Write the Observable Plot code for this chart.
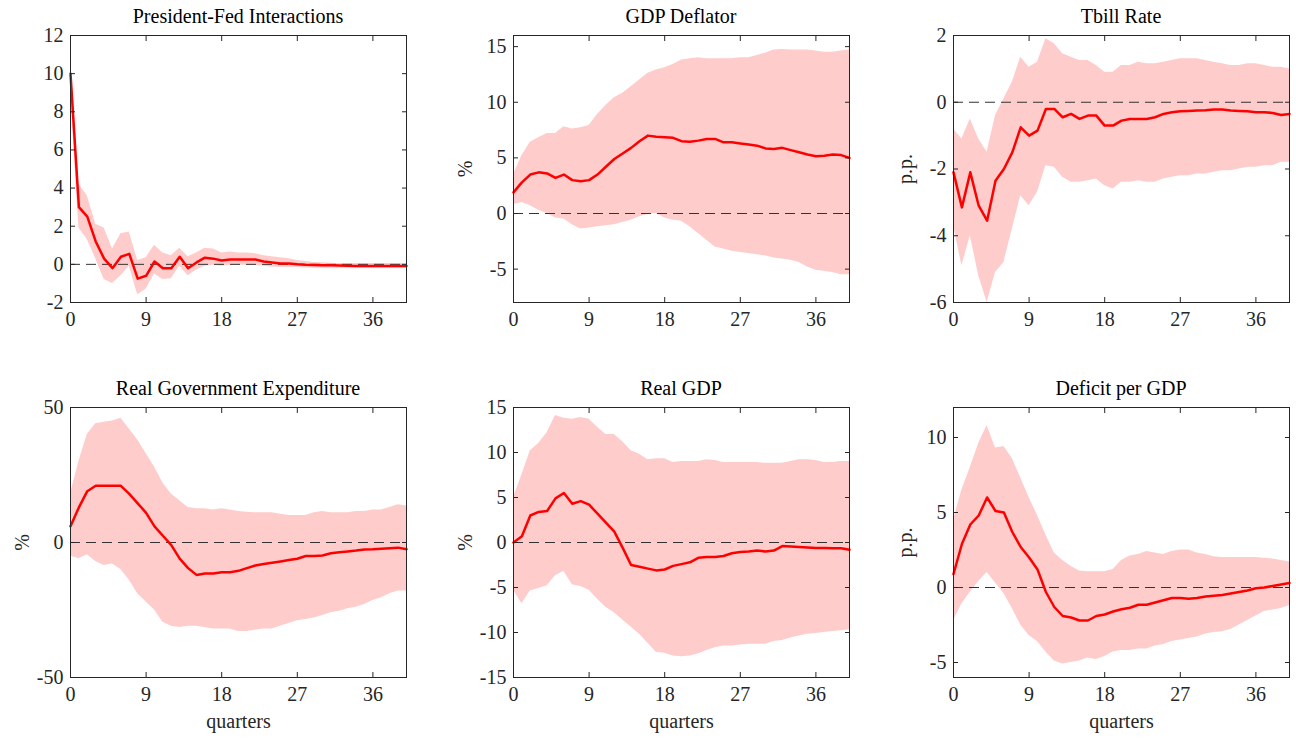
<!DOCTYPE html>
<html><head><meta charset="utf-8">
<script src="https://cdn.jsdelivr.net/npm/d3@7"></script>
<script src="https://cdn.jsdelivr.net/npm/@observablehq/plot@0.6"></script>
<style>
body{margin:0;background:#fff;font-family:"Liberation Serif",serif;}
#wrap{position:relative;width:1296px;height:738px;}
.t{position:absolute;font-size:20px;color:#000;text-align:center;width:336px;}
.p{position:absolute;}
.p text{font-size:20px !important;font-family:"Liberation Serif",serif !important;fill:#262626;}
</style></head><body><div id="wrap"></div>
<script>
const quarters = d3.range(0, 41);
const titles = ["President-Fed Interactions","GDP Deflator","Tbill Rate","Real Government Expenditure","Real GDP","Deficit per GDP"];
const yLabels = [null,"%","p.p.","%","%","p.p."];
const yDomains = [[-2,12],[-8,16],[-6,2],[-50,50],[-15,15],[-6,12]];
const yTicks = [[-2,0,2,4,6,8,10,12],[-5,0,5,10,15],[-6,-4,-2,0,2],[-50,0,50],[-15,-10,-5,0,5,10,15],[-5,0,5,10]];
const xTicks = [0,9,18,27,36];

const pfMean=[10,3.0,2.5,1.2,0.3,-0.2,0.4,0.55,-0.75,-0.6,0.15,-0.2,-0.2,0.4,-0.2,0.1,0.35,0.3,0.2,0.25,0.25,0.25,0.25,0.15,0.1,0.05,0.05,0,-0.02,-0.03,-0.05,-0.05,-0.06,-0.07,-0.08,-0.08,-0.08,-0.08,-0.08,-0.08,-0.08];
const pfHi=[11,4.2,3.6,2.1,1.9,0.8,1.6,1.7,0.2,0.35,1.0,0.6,0.45,0.85,0.4,0.6,0.85,0.8,0.6,0.65,0.6,0.6,0.55,0.45,0.4,0.35,0.3,0.2,0.15,0.1,0.08,0.06,0.05,0.05,0.05,0.05,0.05,0.05,0.05,0.05,0.05];
const pfLo=[9,1.9,1.3,0.3,-0.8,-1.0,-0.6,-0.1,-1.6,-1.3,-0.5,-0.8,-0.75,-0.1,-0.6,-0.3,-0.1,-0.05,-0.1,-0.05,-0.05,-0.05,-0.05,-0.1,-0.15,-0.15,-0.15,-0.15,-0.2,-0.2,-0.2,-0.2,-0.2,-0.2,-0.2,-0.2,-0.2,-0.2,-0.2,-0.2,-0.2];

const defMean=[1.9,2.8,3.5,3.7,3.6,3.2,3.5,3.0,2.9,3.0,3.5,4.2,4.9,5.4,5.9,6.5,7.0,6.9,6.85,6.8,6.5,6.45,6.55,6.7,6.7,6.4,6.4,6.3,6.2,6.1,5.85,5.8,5.9,5.7,5.5,5.3,5.15,5.2,5.3,5.25,5.0];
const defHi=[3.5,5.2,6.4,6.8,7.2,7.2,7.8,7.6,7.7,7.9,8.9,9.7,10.4,10.8,11.4,12,12.6,12.9,13.1,13.4,13.8,13.9,14.0,13.9,13.9,13.9,13.9,14.0,14.0,14.2,14.4,14.7,14.75,14.7,14.7,14.7,14.6,14.5,14.5,14.6,14.7];
const defLo=[0.8,1.0,0.7,0.3,0,-0.4,-0.5,-1.0,-1.4,-1.3,-1.2,-1.1,-1.0,-0.8,-0.6,-0.3,-0.1,0,-0.4,-0.6,-0.7,-1.2,-1.8,-2.4,-3.0,-3.2,-3.4,-3.5,-3.6,-3.7,-3.8,-4.0,-4.1,-4.2,-4.4,-4.8,-5.1,-5.2,-5.3,-5.5,-5.5];

const tbMean=[-2.1,-3.15,-2.1,-3.1,-3.55,-2.35,-2.0,-1.5,-0.75,-1.0,-0.85,-0.2,-0.2,-0.45,-0.35,-0.5,-0.4,-0.4,-0.7,-0.7,-0.55,-0.5,-0.5,-0.5,-0.45,-0.35,-0.3,-0.27,-0.26,-0.25,-0.24,-0.22,-0.22,-0.25,-0.26,-0.27,-0.3,-0.3,-0.32,-0.38,-0.35];
const tbHi=[-0.8,-1.1,-0.5,-1.1,-1.5,-0.4,0.1,0.6,1.35,1.05,1.2,1.9,1.75,1.45,1.35,1.25,1.25,1.1,0.9,0.9,1.1,1.1,1.2,1.15,1.15,1.2,1.25,1.3,1.3,1.3,1.25,1.2,1.15,1.1,1.1,1.15,1.15,1.1,1.05,1.05,1.0];
const tbLo=[-3.7,-4.9,-4.0,-5.2,-6.0,-5.1,-4.8,-3.8,-2.8,-3.1,-2.7,-1.9,-1.95,-2.25,-2.4,-2.4,-2.35,-2.3,-2.5,-2.6,-2.4,-2.4,-2.35,-2.4,-2.4,-2.3,-2.25,-2.2,-2.2,-2.15,-2.15,-2.1,-2.05,-2.05,-2.0,-1.95,-1.95,-1.9,-1.9,-1.8,-1.8];

const rgeMean=[6,13,19,21,21,21,21,18,14.5,11,6,2.5,-1,-6,-9.5,-12,-11.5,-11.5,-11,-11,-10.5,-9.5,-8.5,-8,-7.5,-7,-6.5,-6,-5,-5,-4.8,-4,-3.6,-3.3,-3,-2.6,-2.5,-2.3,-2.1,-1.9,-2.5];
const rgeHi=[18,30,40,44,44.5,45,46,42,38,33,28,22,18,15.5,13,12.5,12.5,12,12.5,12,11.5,11.2,11,11,11,10.5,10,10,10,11,11.5,11,11,11,11.5,11.5,12,12,13,14,13.5];
const rgeLo=[-5,-6,-4.5,-7,-8.5,-8,-10,-14,-19,-22,-25,-29.5,-31,-31.5,-31,-31,-31.5,-32,-32,-32,-33,-33,-32.5,-32,-32,-31,-30,-29,-28.5,-28,-27,-26,-25.5,-24.5,-24,-23,-21.5,-20.5,-19,-18,-18];

const gdpMean=[0,0.7,3.0,3.4,3.5,4.9,5.5,4.3,4.6,4.2,3.2,2.2,1.2,-0.6,-2.5,-2.7,-2.9,-3.1,-3.0,-2.6,-2.4,-2.2,-1.7,-1.6,-1.6,-1.5,-1.2,-1.05,-1.0,-0.9,-1.0,-0.9,-0.4,-0.45,-0.5,-0.55,-0.6,-0.6,-0.65,-0.65,-0.8];
const gdpHi=[5.0,7.5,10.2,11,12.2,14.1,13.8,13.7,13.9,13.7,12.8,12,12,11.2,10.2,9.8,9.2,9.3,9.3,8.9,9.0,9.0,9.0,9.2,9.1,8.9,8.9,8.9,8.9,8.9,8.8,8.8,8.8,9.0,9.2,9.2,9.1,8.9,8.9,9.0,9.0];
const gdpLo=[-5.3,-6.8,-5.4,-5.1,-4.8,-3.7,-3.2,-4.7,-4.9,-5.3,-6.3,-7.2,-7.8,-8.6,-9.4,-10.2,-11.2,-12.2,-12.3,-12.6,-12.7,-12.6,-12.4,-12.0,-11.7,-11.5,-11.5,-11.4,-11.3,-11.3,-11.3,-11.0,-10.9,-10.6,-10.4,-10.2,-10.1,-10.0,-9.9,-9.8,-9.7];

const dpgMean=[0.9,2.9,4.2,4.8,6.0,5.1,5.0,3.7,2.7,2.0,1.2,-0.3,-1.3,-1.9,-2.0,-2.2,-2.2,-1.9,-1.8,-1.6,-1.45,-1.35,-1.15,-1.15,-1.0,-0.85,-0.7,-0.7,-0.75,-0.7,-0.6,-0.55,-0.5,-0.4,-0.3,-0.2,-0.05,0,0.1,0.2,0.3];
const dpgHi=[4.5,6.5,8,9.6,10.8,9.3,9.4,8.6,7.3,6.0,4.8,3.5,2.3,1.8,1.4,1.1,1.05,1.05,1.05,1.2,1.8,2.1,2.2,2.4,2.3,2.2,2.4,2.5,2.5,2.3,2.2,2.05,2.0,2.0,2.0,2.0,2.0,1.95,1.9,1.8,1.7];
const dpgLo=[-2.2,-1.1,-0.3,0.4,1.0,0.3,-0.4,-1.4,-2.5,-3.2,-3.6,-4.3,-4.9,-5.1,-5.0,-4.9,-4.7,-4.8,-4.6,-4.3,-4.2,-4.2,-4.1,-4.1,-3.9,-3.8,-3.6,-3.5,-3.4,-3.3,-3.1,-3.0,-2.95,-2.8,-2.5,-2.2,-1.9,-1.6,-1.5,-1.4,-1.2];

const series=[[pfMean,pfLo,pfHi],[defMean,defLo,defHi],[tbMean,tbLo,tbHi],[rgeMean,rgeLo,rgeHi],[gdpMean,gdpLo,gdpHi],[dpgMean,dpgLo,dpgHi]];
const frames=[[70,35,267],[513,35,267],[953,35,267],[70,407,270],[513,407,270],[953,407,270]];
const wrap=document.getElementById("wrap");
const ML=66,MR=12,MT=16,MB=60,W=336;
const fmt=d=>String(d);
series.forEach(([m,lo,hi],i)=>{
  const [fx,fy,fh]=frames[i];
  const data=quarters.map((q,j)=>({q,m:m[j],lo:lo[j],hi:hi[j]}));
  const bottom=i>=3;
  const p=Plot.plot({
    width:W+ML+MR,height:fh+MT+MB,marginLeft:ML,marginRight:MR,marginTop:MT,marginBottom:MB,
    style:{fontFamily:"Liberation Serif",fontSize:"20px",color:"#262626",background:"transparent"},
    x:{domain:[0,40]},
    y:{domain:yDomains[i]},
    marks:[
      Plot.areaY(data,{x:"q",y1:"lo",y2:"hi",fill:"#ffcccc"}),
      Plot.ruleY([0],{stroke:"#333",strokeDasharray:"10,6",strokeWidth:1}),
      Plot.lineY(data,{x:"q",y:"m",stroke:"#ff0000",strokeWidth:2.5}),
      Plot.frame({stroke:"#262626"}),
      Plot.axisX(xTicks,{anchor:"bottom",tickSize:-5,tickPadding:14,tickFormat:fmt,fontSize:20,label:bottom?"quarters":null,labelAnchor:"center",labelArrow:"none",labelOffset:50}),
      Plot.axisX(xTicks,{anchor:"top",tickSize:-5,text:null,label:null}),
      Plot.axisY(yTicks[i],{anchor:"left",tickSize:-5,tickPadding:12,tickFormat:fmt,fontSize:20,label:yLabels[i],labelAnchor:"center",labelArrow:"none",labelOffset:56}),
      Plot.axisY(yTicks[i],{anchor:"right",tickSize:-5,text:null,label:null})
    ]
  });
  p.classList.add("p");
  p.style.left=(fx-ML)+"px"; p.style.top=(fy-MT)+"px";
  wrap.appendChild(p);
  const t=document.createElement("div");
  t.className="t"; t.textContent=titles[i];
  t.style.left=fx+"px"; t.style.top=(fy-30)+"px";
  wrap.appendChild(t);
});
</script></body></html>
